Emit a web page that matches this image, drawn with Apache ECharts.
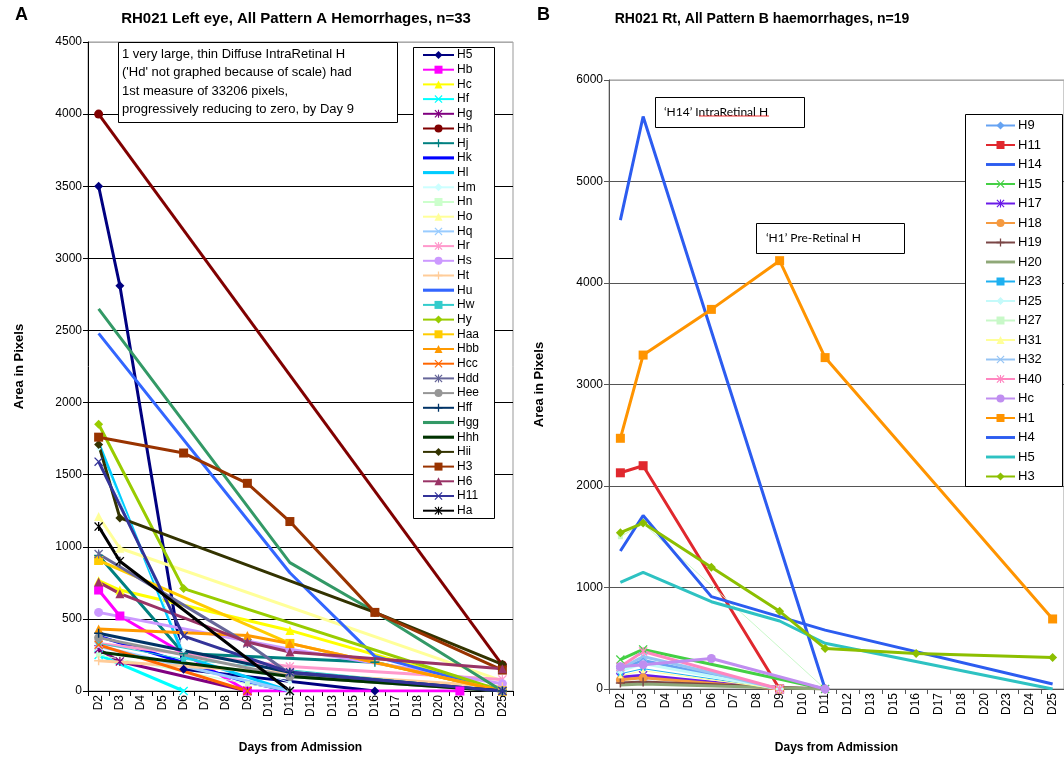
<!DOCTYPE html>
<html>
<head>
<meta charset="utf-8">
<script src="https://cdn.jsdelivr.net/npm/echarts@6/dist/echarts.min.js"></script>
<style>
html,body{margin:0;padding:0;background:#fff}
#main{width:1064px;height:759px}
</style>
</head>
<body>
<div id="main"></div>
<script>
var _ = null;
// x categories, shared by both panels
var days = ['D2','D3','D4','D5','D6','D7','D8','D9','D10','D11','D12','D13','D15','D16','D17','D18','D20','D23','D24','D25'];
var yTicksA = [0, 4500, 500];
var yTicksB = [0, 6000, 1000];

// Panel A - left eye, pattern A   (D2 .. D25)
var aH5  = [3500,2810,_,_,150,_,_,_,_,_,_,_,_,0,_,_,_,_,_,_];
var aHb  = [700,520,_,_,_,_,_,0,_,_,_,_,_,_,_,_,_,0,_,_];
var aHc  = [765,700,_,_,_,_,_,_,_,420,_,_,_,_,_,_,_,_,_,0];
var aHf  = [250,_,_,_,0,_,_,_,_,_,_,_,_,_,_,_,_,_,_,_];
var aHg  = [290,205,_,_,_,_,_,0,_,_,_,_,_,_,_,_,_,_,_,_];
var aHh  = [4000,_,_,_,_,_,_,_,_,_,_,_,_,_,_,_,_,_,_,180];
var aHj  = [940,_,_,_,260,_,_,_,_,_,_,_,_,200,_,_,_,_,_,0];
var aHk  = [380,_,_,_,_,_,_,60,_,0,_,_,_,_,_,_,_,_,_,_];
var aHl  = [1720,_,_,_,240,_,_,_,_,0,_,_,_,_,_,_,_,_,_,_];
var aHm  = [1680,_,_,_,280,_,_,_,_,60,_,_,_,_,_,_,_,_,_,_];
var aHn  = [250,_,_,_,_,_,_,50,_,0,_,_,_,_,_,_,_,_,_,_];
var aHo  = [1210,990,_,_,_,_,_,_,_,_,_,_,_,_,_,_,_,_,_,70];
var aHq  = [310,_,_,_,_,_,_,_,_,0,_,_,_,_,_,_,_,_,_,_];
var aHr  = [330,_,_,_,_,_,_,_,_,170,_,_,_,_,_,_,_,_,_,80];
var aHs  = [545,_,_,_,_,_,_,_,_,290,_,_,_,_,_,_,_,_,_,50];
var aHt  = [210,_,_,_,_,_,_,_,_,_,_,_,_,_,_,_,_,_,_,30];
var aHu  = [2480,_,_,_,_,_,_,_,_,820,_,_,_,240,_,_,_,_,_,0];
var aHw  = [330,_,_,_,220,_,_,_,_,_,_,_,_,_,_,_,_,_,_,0];
var aHy  = [1850,_,_,_,710,_,_,_,_,_,_,_,_,_,_,_,_,_,_,0];
var aHaa = [905,_,_,_,_,_,_,_,_,330,_,_,_,_,_,_,_,_,_,0];
var aHbb = [430,_,_,_,_,_,_,385,_,330,_,_,_,_,_,_,_,_,_,0];
var aHcc = [320,_,_,_,_,_,_,0,_,_,_,_,_,_,_,_,_,_,_,_];
var aHdd = [950,_,_,_,_,_,_,330,_,120,_,_,_,_,_,_,_,_,_,0];
var aHee = [370,_,_,_,_,_,_,_,_,100,_,_,_,_,_,_,_,_,_,0];
var aHff = [400,_,_,_,_,_,_,_,_,130,_,_,_,_,_,_,_,_,_,0];
var aHgg = [2650,_,_,_,_,_,_,_,_,890,_,_,_,550,_,_,_,_,_,0];
var aHhh = [270,_,_,_,_,_,_,_,_,100,_,_,_,_,_,_,_,_,_,0];
var aHii = [1710,1200,_,_,_,_,_,_,_,_,_,_,_,545,_,_,_,_,_,185];
var aH3  = [1760,_,_,_,1650,_,_,1440,_,1175,_,_,_,545,_,_,_,_,_,145];
var aH6  = [755,675,_,_,_,_,_,340,_,270,_,_,_,_,_,_,_,_,_,155];
var aH11 = [1590,_,_,_,380,_,_,_,_,130,_,_,_,_,_,_,_,_,_,0];
var aHa  = [1140,900,_,_,_,_,_,_,_,0,_,_,_,_,_,_,_,_,_,_];

var namesA = ['H5','Hb','Hc','Hf','Hg','Hh','Hj','Hk','Hl','Hm','Hn','Ho','Hq','Hr','Hs','Ht','Hu','Hw','Hy','Haa','Hbb','Hcc','Hdd','Hee','Hff','Hgg','Hhh','Hii','H3','H6','H11','Ha'];
var dataA = [aH5,aHb,aHc,aHf,aHg,aHh,aHj,aHk,aHl,aHm,aHn,aHo,aHq,aHr,aHs,aHt,aHu,aHw,aHy,aHaa,aHbb,aHcc,aHdd,aHee,aHff,aHgg,aHhh,aHii,aH3,aH6,aH11,aHa];

// Panel B - right eye, pattern B
var bH9  = [200,280,_,_,_,_,_,0,_,_,_,_,_,_,_,_,_,_,_,_];
var bH11 = [2130,2200,_,_,_,_,_,0,_,_,_,_,_,_,_,_,_,_,_,_];
var bH14 = [4620,5640,_,_,_,_,_,_,_,0,_,_,_,_,_,_,_,_,_,_];
var bH15 = [290,390,_,_,_,_,_,_,_,0,_,_,_,_,_,_,_,_,_,_];
var bH17 = [115,135,_,_,_,_,_,0,_,_,_,_,_,_,_,_,_,_,_,_];
var bH18 = [90,110,_,_,_,_,_,0,_,_,_,_,_,_,_,_,_,_,_,_];
var bH19 = [60,70,_,_,_,_,_,_,_,0,_,_,_,_,_,_,_,_,_,_];
var bH20 = [40,50,_,_,_,_,_,_,_,0,_,_,_,_,_,_,_,_,_,_];
var bH23 = [150,200,_,_,_,_,_,0,_,_,_,_,_,_,_,_,_,_,_,_];
var bH25 = [180,250,_,_,_,_,_,0,_,_,_,_,_,_,_,_,_,_,_,_];
var bH27 = [1500,1630,_,_,_,_,_,_,_,0,_,_,_,_,_,_,_,_,_,_];
var bH31 = [130,180,_,_,_,_,_,0,_,_,_,_,_,_,_,_,_,_,_,_];
var bH32 = [200,320,_,_,_,_,_,0,_,_,_,_,_,_,_,_,_,_,_,_];
var bH40 = [220,370,_,_,_,_,_,0,_,_,_,_,_,_,_,_,_,_,_,_];
var bHc  = [220,240,_,_,300,_,_,_,_,0,_,_,_,_,_,_,_,_,_,_];
var bH1  = [2470,3290,_,_,3740,_,_,4220,_,3265,_,_,_,_,_,_,_,_,_,690];
var bH4  = [1360,1710,_,_,910,_,_,_,_,580,_,_,_,_,_,_,_,_,_,50];
var bH5  = [1050,1150,_,_,860,_,_,670,_,450,_,_,_,_,_,_,_,_,_,0];
var bH3  = [1540,1635,_,_,1200,_,_,765,_,400,_,_,_,350,_,_,_,_,_,310];

// trailing space keeps the two legends apart where names repeat (H11, Hc, H5, H3)
var namesB = ['H9','H11 ','H14','H15','H17','H18','H19','H20','H23','H25','H27','H31','H32','H40','Hc ','H1','H4','H5 ','H3 '];
var dataB = [bH9,bH11,bH14,bH15,bH17,bH18,bH19,bH20,bH23,bH25,bH27,bH31,bH32,bH40,bHc,bH1,bH4,bH5,bH3];

// markers
var X = 'path://M0,1L1,0L5,4L9,0L10,1L6,5L10,9L9,10L5,6L1,10L0,9L4,5Z';
var STAR = 'path://M0,1L1,0L5,4L9,0L10,1L6,5L10,9L9,10L5,6L1,10L0,9L4,5Z M4.3,0L5.7,0L5.7,10L4.3,10Z';
var PLUS = 'path://M4.2,0L5.8,0L5.8,4.2L10,4.2L10,5.8L5.8,5.8L5.8,10L4.2,10L4.2,5.8L0,5.8L0,4.2L4.2,4.2Z';
var BAR = 'path://M0,0L30,0L30,3L0,3Z';

var colorsA = ['#000080','#FF00FF','#FFFF00','#00FFFF','#800080','#800000','#008080','#0000FF','#00CCFF','#CCFFFF','#CCFFCC','#FFFF99','#99CCFF','#FF99CC','#CC99FF','#FFCC99','#3366FF','#33CCCC','#99CC00','#FFCC00','#FF9900','#FF6600','#666699','#969696','#003366','#339966','#003300','#333300','#993300','#993366','#333399','#000000'];
var symbolsA = ['diamond','rect','triangle',X,STAR,'circle',PLUS,'none','none','diamond','rect','triangle',X,STAR,'circle',PLUS,'none','rect','diamond','rect','triangle',X,STAR,'circle',PLUS,'none','none','diamond','rect','triangle',X,STAR];
var thinA = ['Hm','Hn','Hw'];

var colorsB = ['#66A3F2','#E0282E','#2C5CF0','#44D044','#6A1AE8','#F59A40','#7A4646','#8FA878','#1EB0F0','#C4FAFA','#C8F8C8','#FFFF99','#96C4F4','#FF86C0','#C08EF0','#FF9400','#2C5CF0','#2EC2C2','#8CBF00'];
var symbolsB = ['diamond','rect','none',X,STAR,'circle',PLUS,'none','rect','diamond','rect','triangle',X,STAR,'circle','rect','none','none','diamond'];
var thinB = ['H23','H27','H31'];

var FONT = 'Liberation Sans, Arial, sans-serif';

function makeSeries(names, datas, colors, symbols, thin, idx) {
    return names.map(function (n, i) {
        var w = thin.indexOf(n) > -1 ? 1 : 3;
        return {
            type: 'line',
            name: n,
            data: datas[i],
            xAxisIndex: idx,
            yAxisIndex: idx,
            connectNulls: true,
            showAllSymbol: true,
            symbol: symbols[i],
            symbolSize: w > 1 ? 9 : 5,
            lineStyle: { color: colors[i], width: w },
            itemStyle: { color: colors[i] },
            emphasis: { disabled: true },
            animation: false
        };
    });
}

function legendData(names, symbols) {
    return names.map(function (n, i) {
        return symbols[i] === 'none' ? { name: n, icon: BAR } : { name: n };
    });
}

function xAxisFor(idx, nameGap) {
    return {
        gridIndex: idx,
        type: 'category',
        data: days,
        boundaryGap: true,
        axisLine: { lineStyle: { color: idx ? '#555' : '#000', width: 1 } },
        axisTick: { show: true, interval: 0, length: 5, lineStyle: { color: idx ? '#555' : '#000' } },
        axisLabel: { interval: 0, rotate: 90, color: '#000', fontSize: 12, fontFamily: FONT, margin: 4 },
        name: 'Days from Admission',
        nameLocation: 'middle',
        nameGap: nameGap,
        nameTextStyle: { color: '#000', fontWeight: 'bold', fontSize: 12, fontFamily: FONT }
    };
}

function yAxisFor(idx, t, gap, lineCol, topCol) {
    var n = (t[1] - t[0]) / t[2] + 1;
    var cols = [];
    for (var i = 0; i < n; i++) cols.push(i === n - 1 ? topCol : lineCol);
    return {
        gridIndex: idx,
        type: 'value',
        min: t[0], max: t[1], interval: t[2],
        axisLine: { show: true, lineStyle: { color: lineCol } },
        axisTick: { show: true, length: 5, lineStyle: { color: lineCol } },
        axisLabel: { color: '#000', fontSize: 12, fontFamily: FONT, margin: 6, formatter: function (v) { return String(v); } },
        splitLine: { show: true, lineStyle: { color: cols, width: 1 } },
        name: 'Area in Pixels',
        nameLocation: 'middle',
        nameGap: gap,
        nameTextStyle: { color: '#000', fontWeight: 'bold', fontSize: 13, fontFamily: FONT }
    };
}

// red spell-check squiggle under "IntraRetinal"
var squiggle = [];
for (var sx = 699; sx <= 769; sx += 2) squiggle.push([sx, (sx / 2) % 2 ? 116 : 118.5]);

var chart = echarts.init(document.getElementById('main'));
var option = {
    backgroundColor: '#fff',
    animation: false,
    grid: [
        { left: 88, top: 42, width: 425, height: 661, show: true, borderColor: '#999', borderWidth: 1, backgroundColor: 'transparent' },
        { left: 609, top: 80, width: 462, height: 621, show: true, borderColor: '#999', borderWidth: 1, backgroundColor: 'transparent' }
    ],
    xAxis: [xAxisFor(0, 51), xAxisFor(1, 53)],
    yAxis: [yAxisFor(0, yTicksA, 62, '#000', '#aaa'), yAxisFor(1, yTicksB, 63, '#555', '#aaa')],
    legend: [
        {
            orient: 'vertical', left: 413, top: 48, padding: [1, 4, 1, 9],
            itemWidth: 31, itemHeight: 10, itemGap: 2.7,
            textStyle: { color: '#000', fontSize: 12, fontFamily: FONT, padding: [0, 0, 0, -2] },
            data: legendData(namesA, symbolsA),
            selectedMode: false, z: 6
        },
        {
            orient: 'vertical', left: 966, top: 118, padding: [1, 4, 1, 19],
            itemWidth: 29, itemHeight: 10, itemGap: 6.5,
            textStyle: { color: '#000', fontSize: 13, fontFamily: FONT, padding: [0, 0, 0, -2] },
            formatter: function (n) { return n.trim(); },
            data: legendData(namesB, symbolsB),
            selectedMode: false, z: 6
        }
    ],
    graphic: [
        { type: 'text', left: 15, top: 6, z: 6, style: { text: 'A', font: 'bold 18px ' + FONT, fill: '#000' } },
        { type: 'text', left: 537, top: 6, z: 6, style: { text: 'B', font: 'bold 18px ' + FONT, fill: '#000' } },
        { type: 'text', x: 296, y: 19, z: 6, style: { text: 'RH021 Left eye, All Pattern A Hemorrhages, n=33', font: 'bold 15px ' + FONT, fill: '#000', align: 'center', verticalAlign: 'middle' } },
        { type: 'text', x: 762, y: 19, z: 6, style: { text: 'RH021 Rt, All Pattern B haemorrhages, n=19', font: 'bold 14px ' + FONT, fill: '#000', align: 'center', verticalAlign: 'middle' } },
        // legend frames
        { type: 'rect', z: 5, shape: { x: 413.5, y: 47.5, width: 81, height: 471 }, style: { fill: '#fff', stroke: '#000', lineWidth: 1 } },
        { type: 'rect', z: 5, shape: { x: 965.5, y: 114.5, width: 97, height: 372 }, style: { fill: '#fff', stroke: '#000', lineWidth: 1 } },
        // note boxes
        { type: 'rect', z: 5, shape: { x: 118.5, y: 42.5, width: 279, height: 80 }, style: { fill: '#fff', stroke: '#000', lineWidth: 1 } },
        { type: 'text', x: 122, y: 45, z: 6, style: { text: '1 very large, thin Diffuse IntraRetinal H\n(\'Hd\' not graphed because of scale) had\n1st measure of 33206 pixels,\nprogressively reducing to zero, by Day 9', font: '13px ' + FONT, lineHeight: 18.5, fill: '#000' } },
        { type: 'rect', z: 5, shape: { x: 655.5, y: 97.5, width: 149, height: 30 }, style: { fill: '#fff', stroke: '#000', lineWidth: 1 } },
        { type: 'text', x: 664, y: 112, z: 6, style: { text: '\u2018H14\u2019 IntraRetinal H', font: '12px Lato, ' + FONT, fill: '#000', verticalAlign: 'middle' } },
        { type: 'polyline', z: 6, shape: { points: squiggle }, style: { stroke: '#e00', lineWidth: 0.8, fill: null } },
        { type: 'rect', z: 5, shape: { x: 756.5, y: 223.5, width: 148, height: 30 }, style: { fill: '#fff', stroke: '#000', lineWidth: 1 } },
        { type: 'text', x: 766, y: 238, z: 6, style: { text: '\u2018H1\u2019 Pre-Retinal H', font: '12px Lato, ' + FONT, fill: '#000', verticalAlign: 'middle' } }
    ],
    series: makeSeries(namesA, dataA, colorsA, symbolsA, thinA, 0)
        .concat(makeSeries(namesB, dataB, colorsB, symbolsB, thinB, 1))
};
chart.setOption(option);
</script>
</body>
</html>
